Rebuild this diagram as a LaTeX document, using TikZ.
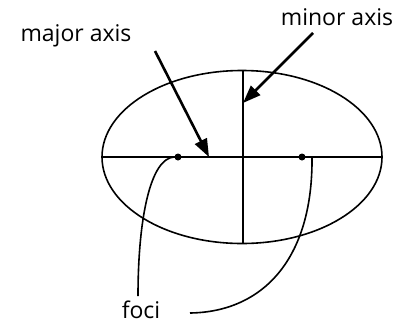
\documentclass[tikz,border=0pt]{standalone}
\usepackage{fontspec}
\setmainfont{Open Sans}
\usetikzlibrary{arrows.meta}
\begin{document}
\begin{tikzpicture}[x=1pt,y=-1pt,
  shape line/.style={line width=1.6pt,black},
  pointer/.style={line width=2.6pt,-{Triangle[length=18pt,width=13pt]}},
  leader/.style={line width=1.6pt},
  label/.style={anchor=base,inner sep=0pt,font=\fontsize{23}{28}\selectfont},
  focus/.style={circle,fill=black,inner sep=0pt,minimum size=7pt}]
\useasboundingbox (0,0) rectangle (411,327);
\draw[shape line] (242,157) ellipse [x radius=140,y radius=86.5];
\coordinate (L) at (102,157);
\coordinate (R) at (382,157);
\coordinate (T) at (243,70.5);
\coordinate (B) at (243,243.5);
\draw[shape line] (L) -- (R);
\draw[shape line] (T) -- (B);
\node[focus] (f1) at (178,157) {};
\node[focus] (f2) at (302,157) {};
\node[label] (maj) at (76,41.5) {major axis};
\node[label] (min) at (337,25) {minor axis};
\node[label] (foci) at (141,318) {foci};
\coordinate (majs) at (155,51);
\coordinate (majt) at (209,157);
\coordinate (mins) at (313,33);
\coordinate (mint) at (243,103);
\draw[pointer] (majs) -- (majt);
\draw[pointer] (mins) -- (mint);
\coordinate (c1) at (138,296);
\coordinate (s2) at (312,157);
\coordinate (c2) at (190,313);
\draw[leader] (f1.west) .. controls (150,158) and (138,220) .. (c1);
\draw[leader] (s2) .. controls (313,260) and (262,312) .. (c2);
\end{tikzpicture}
\end{document}
